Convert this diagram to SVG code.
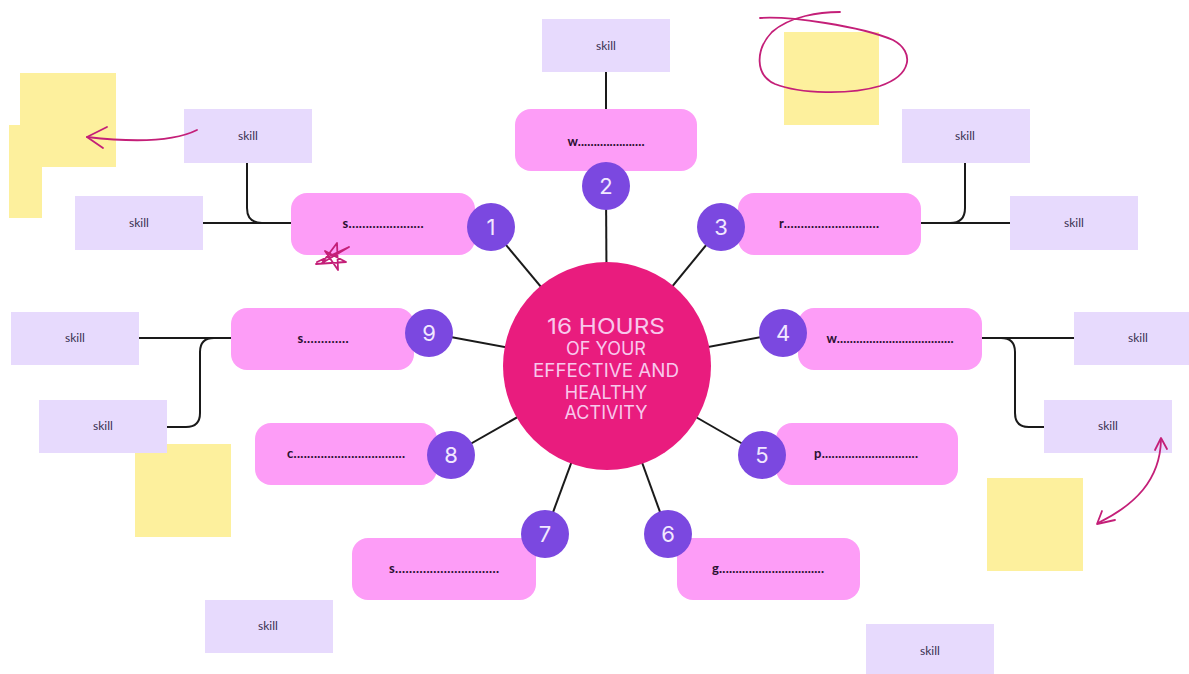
<svg xmlns="http://www.w3.org/2000/svg" width="1189" height="674" viewBox="0 0 1189 674">
  <style>
    .skill { fill: #e7dafd; }
    .skill-t { font-family: Lato, "Noto Sans", sans-serif; font-size: 12px; fill: #3a3050; text-anchor: middle; }
    .note { fill: #fdf09d; }
    .pill { fill: #fd9df7; }
    .pill-t { font-family: Lato, "Noto Sans", sans-serif; font-weight: 700; font-size: 13px; fill: #2a1030; text-anchor: middle; }
    .num { fill: #7b48e0; }
    .num-t { font-family: Inter, "DejaVu Sans", sans-serif; font-size: 22px; fill: #f2e8ff; text-anchor: middle; }
    .wire { fill: none; stroke: #1a1a1a; stroke-width: 2; }
    .ink { fill: none; stroke: #c41f78; stroke-width: 1.8; stroke-linecap: round; stroke-linejoin: round; }
    .hub-t { font-family: Inter, Roboto, sans-serif; fill: #f8c8ec; text-anchor: middle; }
  </style>

  <rect width="1189" height="674" fill="#ffffff"/>

  <!-- sticky notes -->
  <g id="notes">
    <rect class="note" x="9" y="125" width="33" height="93"/>
    <rect class="note" x="20" y="73" width="96" height="94"/>
    <rect class="note" x="784" y="32" width="95" height="93"/>
    <rect class="note" x="135" y="444" width="96" height="93"/>
    <rect class="note" x="987" y="478" width="96" height="93"/>
  </g>

  <!-- connectors -->
  <g id="connectors">
    <line class="wire" x1="607" y1="366" x2="491" y2="227"/>
    <line class="wire" x1="607" y1="366" x2="606" y2="186"/>
    <line class="wire" x1="607" y1="366" x2="721" y2="227"/>
    <line class="wire" x1="607" y1="366" x2="783" y2="333"/>
    <line class="wire" x1="607" y1="366" x2="762" y2="455"/>
    <line class="wire" x1="607" y1="366" x2="668" y2="534"/>
    <line class="wire" x1="607" y1="366" x2="545" y2="534"/>
    <line class="wire" x1="607" y1="366" x2="451" y2="455"/>
    <line class="wire" x1="607" y1="366" x2="429" y2="333"/>
    <line class="wire" x1="606" y1="72" x2="606" y2="110"/>
    <path class="wire" d="M203,223 H292"/>
    <path class="wire" d="M247,163 V208 Q247,223 262,223 H292"/>
    <path class="wire" d="M920,223 H1010"/>
    <path class="wire" d="M965,163 V208 Q965,223 950,223 H920"/>
    <path class="wire" d="M139,338 H232"/>
    <path class="wire" d="M167,427 H186 Q200,427 200,413 V352 Q200,338 214,338 H232"/>
    <path class="wire" d="M981,338 H1074"/>
    <path class="wire" d="M1044,427 H1029 Q1015,427 1015,413 V352 Q1015,338 1001,338 H981"/>
  </g>

  <!-- skill boxes -->
  <g id="skill-top"><rect class="skill" x="542" y="19" width="128" height="53"/><text class="skill-t" x="606" y="50">skill</text></g>
  <g id="skill-1a"><rect class="skill" x="184" y="109" width="128" height="54"/><text class="skill-t" x="248" y="140">skill</text></g>
  <g id="skill-1b"><rect class="skill" x="75" y="196" width="128" height="54"/><text class="skill-t" x="139" y="227">skill</text></g>
  <g id="skill-3a"><rect class="skill" x="902" y="109" width="128" height="54"/><text class="skill-t" x="965" y="140">skill</text></g>
  <g id="skill-3b"><rect class="skill" x="1010" y="196" width="128" height="54"/><text class="skill-t" x="1074" y="227">skill</text></g>
  <g id="skill-9a"><rect class="skill" x="11" y="312" width="128" height="53"/><text class="skill-t" x="75" y="342">skill</text></g>
  <g id="skill-9b"><rect class="skill" x="39" y="400" width="128" height="53"/><text class="skill-t" x="103" y="430">skill</text></g>
  <g id="skill-4a"><rect class="skill" x="1074" y="312" width="128" height="53"/><text class="skill-t" x="1138" y="342">skill</text></g>
  <g id="skill-4b"><rect class="skill" x="1044" y="400" width="128" height="53"/><text class="skill-t" x="1108" y="430">skill</text></g>
  <g id="skill-bl"><rect class="skill" x="205" y="600" width="128" height="53"/><text class="skill-t" x="268" y="630">skill</text></g>
  <g id="skill-br"><rect class="skill" x="866" y="624" width="128" height="50"/><text class="skill-t" x="930" y="655">skill</text></g>

  <!-- topic pills with number badges -->
  <g id="node-1">
    <rect class="pill" x="291" y="193" width="184" height="62" rx="16"/>
    <text class="pill-t" x="383" y="228" textLength="81" lengthAdjust="spacing">s......................</text>
    <circle class="num" cx="491" cy="227" r="24"/><text class="num-t" x="491" y="235">1</text>
  </g>
  <g id="node-2">
    <rect class="pill" x="515" y="109" width="182" height="62" rx="16"/>
    <text class="pill-t" x="606" y="146" textLength="77" lengthAdjust="spacing">w.....................</text>
    <circle class="num" cx="606" cy="186" r="24"/><text class="num-t" x="606" y="194">2</text>
  </g>
  <g id="node-3">
    <rect class="pill" x="738" y="193" width="183" height="62" rx="16"/>
    <text class="pill-t" x="829" y="228" textLength="100" lengthAdjust="spacing">r............................</text>
    <circle class="num" cx="721" cy="227" r="24"/><text class="num-t" x="721" y="235">3</text>
  </g>
  <g id="node-4">
    <rect class="pill" x="798" y="308" width="184" height="62" rx="16"/>
    <text class="pill-t" x="890" y="343" textLength="127" lengthAdjust="spacing">w....................................</text>
    <circle class="num" cx="783" cy="333" r="24"/><text class="num-t" x="783" y="341">4</text>
  </g>
  <g id="node-5">
    <rect class="pill" x="776" y="423" width="182" height="62" rx="16"/>
    <text class="pill-t" x="866" y="458" textLength="104" lengthAdjust="spacing">p.............................</text>
    <circle class="num" cx="762" cy="455" r="24"/><text class="num-t" x="762" y="463">5</text>
  </g>
  <g id="node-6">
    <rect class="pill" x="677" y="538" width="183" height="62" rx="16"/>
    <text class="pill-t" x="768" y="573" textLength="112" lengthAdjust="spacing">g................................</text>
    <circle class="num" cx="668" cy="534" r="24"/><text class="num-t" x="668" y="542">6</text>
  </g>
  <g id="node-7">
    <rect class="pill" x="352" y="538" width="184" height="62" rx="16"/>
    <text class="pill-t" x="444" y="573" textLength="110" lengthAdjust="spacing">s..............................</text>
    <circle class="num" cx="545" cy="534" r="24"/><text class="num-t" x="545" y="542">7</text>
  </g>
  <g id="node-8">
    <rect class="pill" x="255" y="423" width="182" height="62" rx="16"/>
    <text class="pill-t" x="346" y="458" textLength="118" lengthAdjust="spacing">c.................................</text>
    <circle class="num" cx="451" cy="455" r="24"/><text class="num-t" x="451" y="463">8</text>
  </g>
  <g id="node-9">
    <rect class="pill" x="231" y="308" width="183" height="62" rx="16"/>
    <text class="pill-t" x="323" y="343" textLength="51" lengthAdjust="spacing">s.............</text>
    <circle class="num" cx="429" cy="333" r="24"/><text class="num-t" x="429" y="341">9</text>
  </g>

  <!-- central hub -->
  <g id="hub">
    <circle cx="607" cy="366" r="104" fill="#e91c7e"/>
    <text class="hub-t" x="606" y="334" font-size="22" textLength="118" lengthAdjust="spacingAndGlyphs">16 HOURS</text>
    <text class="hub-t" x="606" y="355" font-size="18">OF YOUR</text>
    <text class="hub-t" x="606" y="377" font-size="18" textLength="146" lengthAdjust="spacingAndGlyphs">EFFECTIVE AND</text>
    <text class="hub-t" x="606" y="399" font-size="18">HEALTHY</text>
    <text class="hub-t" x="606" y="419" font-size="18">ACTIVITY</text>
  </g>

  <!-- hand-drawn marks -->
  <g id="ink">
    <path class="ink" d="M197,130 Q165,146 87,137"/>
    <path class="ink" d="M107,127 L87,137 L103,148"/>
    <path class="ink" d="M760,18 C790,16 860,26 893,40 C915,52 912,75 880,86 C850,95 800,94 775,84 C755,75 755,50 772,32 C790,16 820,12 840,12"/>
    <path class="ink" d="M317,262 L349,247 L322,263 L337,243 L338,270 L325,251 L346,262 L316,264"/>
    <path class="ink" d="M1161,440 C1160,480 1135,505 1098,523"/>
    <path class="ink" d="M1155,450 L1161,438 L1167,449"/>
    <path class="ink" d="M1102,511 L1097,524 L1115,520"/>
  </g>
</svg>
